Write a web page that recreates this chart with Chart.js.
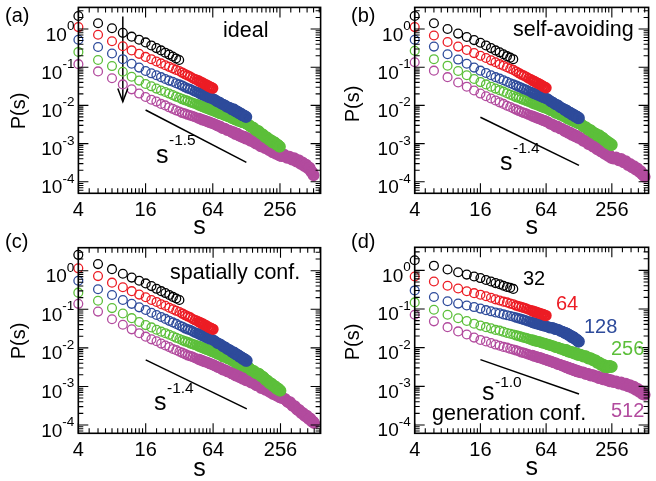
<!DOCTYPE html>
<html><head><meta charset="utf-8">
<script src="https://cdn.jsdelivr.net/npm/chart.js@4"></script>
<style>
html,body{margin:0;padding:0;background:#fff}
body{width:656px;height:481px;position:relative;overflow:hidden}
canvas{position:absolute}
</style></head><body>
<canvas id="ca" width="328" height="240" style="left:0;top:0"></canvas>
<canvas id="cb" width="328" height="240" style="left:328px;top:0"></canvas>
<canvas id="cc" width="328" height="253" style="left:0;top:228px"></canvas>
<canvas id="cd" width="328" height="253" style="left:328px;top:228px"></canvas>
<script>
// ---------- data ----------
const sGrid = [4,6,8,10,12,14,16,18,20,22,24,26,28,30,32,34,36,38,40,42,44,46,48,50,52,54,56,58,60,62,64,
  66,68,70,72,74,76,78,80,82,84,86,88,90,92,94,96,98,100,102,104,106,108,110,112,114,116,118,120,122,124,126,128,
  132,136,140,144,148,152,156,160,164,168,172,176,180,184,188,192,196,200,204,208,212,216,220,224,228,232,236,240,244,248,252,256,
  264,272,280,288,296,304,312,320,328,336,344,352,360,368,376,384,392,400,408,416,424,432,440,448,456,464,472,480,488,496,504,512];
const sizes = [32,64,128,256,512];
const xTickLabels = [4,16,64,256];
const xMinorTicks = [5,6,7,8,9,10,11,12,13,14,15,20,24,28,32,36,40,44,48,52,56,60,80,96,112,128,144,160,176,192,208,224,240,320,384,448,512,576];
const yTickExps = [0,-1,-2,-3,-4];
const yMinorMult = [2,3,4,5,6,7,8,9];

// log10 P(s) for each panel and system size (s taken from sGrid in order)
const a32 = [.34,.15,.02,-.10,-.20,-.28,-.35,-.43,-.50,-.56,-.62,-.67,-.72,-.77,-.81];
const a64 = [.05,-.15,-.32,-.45,-.56,-.65,-.73,-.79,-.85,-.90,-.95,-.99,-1.03,-1.07,-1.10,-1.14,-1.18,-1.21,-1.24,-1.28,-1.31,-1.33,-1.36,-1.39,-1.41,-1.44,-1.46,-1.49,-1.51,-1.53,-1.55];
const a128 = [-.28,-.47,-.64,-.79,-.91,-1.01,-1.10,-1.16,-1.21,-1.26,-1.31,-1.35,-1.38,-1.42,-1.45,-1.48,-1.52,-1.55,-1.57,-1.60,-1.63,-1.65,-1.67,-1.70,-1.72,-1.74,-1.76,-1.78,-1.80,-1.81,-1.83,
  -1.84,-1.87,-1.90,-1.91,-1.92,-1.95,-1.97,-1.98,-1.99,-2.02,-2.04,-2.05,-2.05,-2.07,-2.10,-2.11,-2.10,-2.12,-2.15,-2.16,-2.16,-2.18,-2.21,-2.21,-2.21,-2.24,-2.26,-2.26,-2.26,-2.28,-2.30,-2.30];
const a256 = [-.60,-.81,-.97,-1.12,-1.25,-1.35,-1.44,-1.50,-1.56,-1.61,-1.65,-1.69,-1.73,-1.77,-1.80,-1.83,-1.86,-1.88,-1.91,-1.93,-1.95,-1.97,-1.99,-2.01,-2.03,-2.05,-2.07,-2.08,-2.10,-2.12,-2.13,
  -2.15,-2.16,-2.18,-2.19,-2.21,-2.22,-2.22,-2.24,-2.26,-2.26,-2.28,-2.29,-2.29,-2.31,-2.33,-2.33,-2.34,-2.35,-2.37,-2.37,-2.37,-2.39,-2.41,-2.40,-2.41,-2.42,-2.44,-2.44,-2.44,-2.45,-2.47,-2.47,
  -2.50,-2.52,-2.56,-2.57,-2.58,-2.62,-2.65,-2.67,-2.67,-2.70,-2.74,-2.75,-2.76,-2.79,-2.83,-2.83,-2.84,-2.87,-2.90,-2.90,-2.91,-2.93,-2.97,-2.96,-2.96,-2.98,-3.02,-3.02,-3.03,-3.05,-3.08,-3.08];
const a512 = [-.92,-1.11,-1.29,-1.45,-1.58,-1.69,-1.78,-1.85,-1.90,-1.96,-2.00,-2.05,-2.09,-2.13,-2.16,-2.19,-2.21,-2.24,-2.26,-2.28,-2.30,-2.32,-2.34,-2.36,-2.38,-2.39,-2.41,-2.43,-2.44,-2.46,-2.47,
  -2.49,-2.50,-2.53,-2.54,-2.54,-2.57,-2.60,-2.60,-2.60,-2.62,-2.65,-2.65,-2.65,-2.67,-2.70,-2.70,-2.70,-2.72,-2.75,-2.74,-2.74,-2.76,-2.79,-2.79,-2.79,-2.81,-2.83,-2.82,-2.82,-2.84,-2.87,-2.86,
  -2.86,-2.90,-2.93,-2.93,-2.93,-2.97,-3.00,-3.00,-3.00,-3.03,-3.07,-3.06,-3.05,-3.08,-3.12,-3.11,-3.11,-3.14,-3.17,-3.16,-3.15,-3.19,-3.23,-3.21,-3.20,-3.23,-3.27,-3.25,-3.24,-3.27,-3.31,-3.29,
  -3.33,-3.31,-3.29,-3.33,-3.37,-3.36,-3.34,-3.38,-3.42,-3.40,-3.38,-3.43,-3.47,-3.45,-3.43,-3.48,-3.53,-3.51,-3.49,-3.54,-3.59,-3.57,-3.55,-3.60,-3.65,-3.64,-3.63,-3.69,-3.74,-3.75,-3.77,-3.83];

const b32 = [.34,.15,.00,-.12,-.21,-.29,-.36,-.43,-.50,-.56,-.61,-.66,-.71,-.75,-.79];
const b64 = [.05,-.17,-.34,-.46,-.55,-.63,-.70,-.76,-.82,-.87,-.92,-.96,-1.00,-1.04,-1.07,-1.11,-1.15,-1.19,-1.22,-1.25,-1.29,-1.31,-1.35,-1.37,-1.40,-1.42,-1.45,-1.47,-1.50,-1.52,-1.54];
const b128 = [-.28,-.46,-.66,-.80,-.91,-1.01,-1.09,-1.15,-1.21,-1.26,-1.30,-1.34,-1.38,-1.42,-1.45,-1.48,-1.51,-1.54,-1.57,-1.59,-1.62,-1.64,-1.67,-1.69,-1.71,-1.73,-1.75,-1.77,-1.79,-1.80,-1.82,
  -1.83,-1.86,-1.89,-1.91,-1.92,-1.95,-1.98,-1.98,-1.99,-2.02,-2.05,-2.06,-2.07,-2.09,-2.12,-2.12,-2.13,-2.15,-2.18,-2.18,-2.19,-2.21,-2.24,-2.23,-2.24,-2.26,-2.29,-2.28,-2.29,-2.31,-2.34,-2.33];
const b256 = [-.57,-.79,-.96,-1.10,-1.21,-1.31,-1.39,-1.45,-1.51,-1.56,-1.60,-1.64,-1.68,-1.72,-1.75,-1.78,-1.80,-1.83,-1.85,-1.88,-1.90,-1.92,-1.94,-1.96,-1.97,-1.99,-2.01,-2.03,-2.04,-2.06,-2.07,
  -2.09,-2.10,-2.13,-2.14,-2.14,-2.17,-2.20,-2.20,-2.20,-2.22,-2.25,-2.25,-2.25,-2.27,-2.30,-2.30,-2.30,-2.32,-2.35,-2.34,-2.34,-2.36,-2.39,-2.39,-2.38,-2.41,-2.43,-2.42,-2.42,-2.44,-2.47,-2.46,
  -2.47,-2.51,-2.55,-2.56,-2.57,-2.60,-2.64,-2.64,-2.65,-2.68,-2.72,-2.72,-2.73,-2.76,-2.79,-2.79,-2.78,-2.81,-2.85,-2.84,-2.85,-2.88,-2.92,-2.92,-2.92,-2.95,-2.99,-2.98,-2.98,-3.01,-3.04,-3.03];
const b512 = [-.87,-1.09,-1.26,-1.40,-1.51,-1.61,-1.69,-1.76,-1.82,-1.87,-1.92,-1.96,-2.01,-2.04,-2.08,-2.11,-2.14,-2.17,-2.19,-2.21,-2.24,-2.26,-2.28,-2.30,-2.32,-2.34,-2.35,-2.37,-2.39,-2.40,-2.42,
  -2.43,-2.46,-2.49,-2.49,-2.50,-2.53,-2.56,-2.55,-2.55,-2.58,-2.61,-2.61,-2.61,-2.64,-2.67,-2.67,-2.67,-2.69,-2.72,-2.71,-2.71,-2.74,-2.77,-2.76,-2.76,-2.78,-2.81,-2.80,-2.80,-2.82,-2.85,-2.84,
  -2.85,-2.89,-2.93,-2.93,-2.93,-2.97,-3.01,-3.01,-3.01,-3.04,-3.08,-3.08,-3.07,-3.11,-3.15,-3.14,-3.14,-3.18,-3.21,-3.20,-3.19,-3.23,-3.27,-3.26,-3.25,-3.29,-3.32,-3.31,-3.30,-3.34,-3.37,-3.36,
  -3.39,-3.38,-3.36,-3.40,-3.44,-3.42,-3.40,-3.45,-3.49,-3.48,-3.46,-3.51,-3.56,-3.55,-3.53,-3.58,-3.62,-3.61,-3.59,-3.64,-3.68,-3.67,-3.65,-3.70,-3.74,-3.73,-3.72,-3.77,-3.81,-3.81,-3.83,-3.87];

const c32 = [.41,.17,.04,-.08,-.18,-.26,-.33,-.40,-.47,-.53,-.58,-.63,-.68,-.72,-.76];
const c64 = [.06,-.14,-.31,-.43,-.53,-.62,-.69,-.76,-.81,-.87,-.91,-.96,-1.00,-1.04,-1.07,-1.11,-1.15,-1.18,-1.21,-1.25,-1.28,-1.30,-1.33,-1.36,-1.38,-1.41,-1.43,-1.46,-1.48,-1.50,-1.52];
const c128 = [-.26,-.48,-.63,-.76,-.86,-.95,-1.02,-1.09,-1.15,-1.20,-1.25,-1.30,-1.34,-1.38,-1.42,-1.45,-1.49,-1.52,-1.54,-1.57,-1.60,-1.62,-1.64,-1.67,-1.69,-1.71,-1.73,-1.75,-1.77,-1.78,-1.80,
  -1.82,-1.85,-1.88,-1.89,-1.90,-1.93,-1.96,-1.97,-1.98,-2.01,-2.04,-2.04,-2.05,-2.08,-2.11,-2.11,-2.12,-2.14,-2.17,-2.17,-2.18,-2.20,-2.23,-2.23,-2.24,-2.26,-2.29,-2.28,-2.29,-2.31,-2.34,-2.33];
const c256 = [-.57,-.78,-.97,-1.11,-1.23,-1.33,-1.41,-1.47,-1.53,-1.58,-1.62,-1.66,-1.70,-1.74,-1.77,-1.80,-1.83,-1.85,-1.88,-1.90,-1.92,-1.94,-1.96,-1.98,-2.00,-2.02,-2.04,-2.05,-2.07,-2.09,-2.10,
  -2.12,-2.13,-2.16,-2.17,-2.17,-2.20,-2.23,-2.23,-2.23,-2.25,-2.28,-2.28,-2.28,-2.30,-2.33,-2.33,-2.33,-2.35,-2.38,-2.37,-2.37,-2.39,-2.42,-2.42,-2.41,-2.44,-2.46,-2.45,-2.45,-2.47,-2.50,-2.49,
  -2.50,-2.54,-2.58,-2.59,-2.60,-2.64,-2.66,-2.66,-2.67,-2.70,-2.74,-2.74,-2.76,-2.79,-2.83,-2.84,-2.85,-2.88,-2.92,-2.92,-2.92,-2.95,-2.99,-2.99,-2.99,-3.02,-3.06,-3.05,-3.05,-3.08,-3.11,-3.11];
const c512 = [-.86,-1.06,-1.26,-1.40,-1.52,-1.62,-1.71,-1.78,-1.83,-1.89,-1.94,-1.98,-2.03,-2.06,-2.10,-2.13,-2.16,-2.19,-2.21,-2.23,-2.26,-2.28,-2.30,-2.32,-2.34,-2.36,-2.37,-2.39,-2.41,-2.42,-2.44,
  -2.46,-2.47,-2.50,-2.51,-2.51,-2.54,-2.57,-2.57,-2.57,-2.59,-2.62,-2.62,-2.62,-2.64,-2.67,-2.67,-2.67,-2.69,-2.72,-2.71,-2.71,-2.73,-2.76,-2.76,-2.75,-2.78,-2.80,-2.79,-2.79,-2.81,-2.84,-2.83,
  -2.83,-2.87,-2.90,-2.90,-2.90,-2.94,-2.97,-2.97,-2.96,-3.00,-3.04,-3.03,-3.02,-3.05,-3.09,-3.08,-3.07,-3.11,-3.14,-3.13,-3.12,-3.16,-3.20,-3.18,-3.17,-3.20,-3.24,-3.22,-3.21,-3.24,-3.28,-3.26,
  -3.30,-3.31,-3.32,-3.36,-3.40,-3.41,-3.41,-3.46,-3.50,-3.51,-3.51,-3.56,-3.60,-3.61,-3.61,-3.65,-3.69,-3.69,-3.69,-3.73,-3.77,-3.77,-3.76,-3.80,-3.84,-3.84,-3.83,-3.87,-3.91,-3.91,-3.92,-3.95];

const d32 = [.26,.12,.02,-.05,-.11,-.16,-.20,-.25,-.29,-.33,-.36,-.40,-.43,-.45,-.48];
const d64 = [-.16,-.29,-.40,-.47,-.54,-.59,-.63,-.67,-.71,-.75,-.78,-.81,-.83,-.86,-.88,-.91,-.93,-.95,-.97,-.99,-1.01,-1.03,-1.05,-1.07,-1.08,-1.10,-1.11,-1.13,-1.14,-1.16,-1.17];
const d128 = [-.52,-.69,-.80,-.86,-.91,-.95,-.99,-1.03,-1.06,-1.09,-1.11,-1.14,-1.16,-1.18,-1.20,-1.22,-1.24,-1.26,-1.28,-1.30,-1.32,-1.33,-1.35,-1.36,-1.38,-1.39,-1.40,-1.42,-1.43,-1.44,-1.45,
  -1.46,-1.47,-1.49,-1.48,-1.49,-1.50,-1.53,-1.52,-1.53,-1.54,-1.57,-1.57,-1.58,-1.59,-1.62,-1.62,-1.63,-1.64,-1.67,-1.67,-1.68,-1.70,-1.73,-1.72,-1.73,-1.75,-1.78,-1.78,-1.79,-1.81,-1.84,-1.84];
const d256 = [-.83,-1.02,-1.15,-1.24,-1.31,-1.38,-1.43,-1.47,-1.50,-1.54,-1.56,-1.59,-1.62,-1.64,-1.66,-1.68,-1.70,-1.72,-1.74,-1.75,-1.77,-1.79,-1.80,-1.82,-1.83,-1.84,-1.85,-1.87,-1.88,-1.89,-1.90,
  -1.92,-1.92,-1.94,-1.95,-1.95,-1.97,-1.99,-1.99,-1.99,-2.01,-2.03,-2.03,-2.03,-2.05,-2.07,-2.06,-2.06,-2.08,-2.10,-2.10,-2.10,-2.11,-2.13,-2.13,-2.12,-2.14,-2.16,-2.15,-2.15,-2.17,-2.19,-2.18,
  -2.18,-2.20,-2.23,-2.22,-2.22,-2.25,-2.28,-2.27,-2.27,-2.29,-2.33,-2.32,-2.32,-2.35,-2.39,-2.38,-2.38,-2.41,-2.45,-2.44,-2.43,-2.46,-2.50,-2.48,-2.47,-2.49,-2.51,-2.49,-2.47,-2.48,-2.50,-2.49];
const d512 = [-1.15,-1.32,-1.47,-1.58,-1.66,-1.74,-1.80,-1.84,-1.88,-1.92,-1.95,-1.98,-2.00,-2.03,-2.05,-2.07,-2.09,-2.12,-2.13,-2.15,-2.17,-2.19,-2.20,-2.22,-2.23,-2.25,-2.26,-2.27,-2.29,-2.30,-2.31,
  -2.33,-2.34,-2.35,-2.36,-2.38,-2.39,-2.39,-2.41,-2.43,-2.43,-2.44,-2.45,-2.47,-2.47,-2.48,-2.49,-2.51,-2.51,-2.52,-2.53,-2.55,-2.54,-2.55,-2.56,-2.58,-2.58,-2.58,-2.59,-2.61,-2.61,-2.61,-2.62,
  -2.64,-2.64,-2.64,-2.66,-2.68,-2.68,-2.68,-2.70,-2.72,-2.71,-2.71,-2.73,-2.75,-2.75,-2.74,-2.76,-2.79,-2.78,-2.77,-2.79,-2.82,-2.80,-2.79,-2.81,-2.84,-2.83,-2.82,-2.84,-2.87,-2.85,-2.84,-2.86,
  -2.89,-2.88,-2.87,-2.90,-2.93,-2.91,-2.90,-2.93,-2.96,-2.94,-2.93,-2.96,-3.00,-2.98,-2.97,-3.00,-3.04,-3.02,-3.01,-3.05,-3.09,-3.07,-3.06,-3.10,-3.14,-3.13,-3.12,-3.16,-3.20,-3.19,-3.19,-3.22];

// guide lines [s, log10 P]
const slopeA = [[16,-2.12],[128,-3.49]];
const slopeB = [[16,-2.31],[128,-3.57]];
const slopeC = [[16,-2.31],[128,-3.58]];
const slopeD = [[16,-2.31],[128,-3.20]];
const arrowA = [[10,0.33],[10,-1.90]];

// ---------- style / layout ----------
const FONT = '"Liberation Sans", Arial, Helvetica, sans-serif';
const COLORS = ['#000000','#ec1c24','#2e4b9b','#5cbf3a','#b24b9e'];

const panels = [
  {id:'ca', w:328, h:240, left:78.4, right:321.7, top:4, xmax:592, ymin:5e-5, ymax:3.68, bottom:193.3, titlePad:-2,
   series:[a32,a64,a128,a256,a512], slope:slopeA, arrow:arrowA,
   tag:['(a)',5,22], ptitle:[19,111], note:['ideal',223,37],
   sl:{s:[156,163], sup:['-1.5',169,145]}},
  {id:'cb', w:328, h:240, left:86.7, right:327, top:4, xmax:556, ymin:5e-5, ymax:3.68, bottom:193.3, titlePad:-2,
   series:[b32,b64,b128,b256,b512], slope:slopeB,
   tag:['(b)',23,22], ptitle:[25.5,104], note:['self-avoiding',185,36],
   sl:{s:[172,170], sup:['-1.4',185,153]}},
  {id:'cc', w:328, h:253, left:78.3, right:321, top:19.7, xmax:584, ymin:6.1e-5, ymax:3.94, bottom:205.3, titlePad:-3.5,
   series:[c32,c64,c128,c256,c512], slope:slopeC,
   tag:['(c)',5,20], ptitle:[19,113], note:['spatially conf.',170,51],
   sl:{s:[154,182], sup:['-1.4',167,165]}},
  {id:'cd', w:328, h:253, left:86.7, right:327, top:19.3, xmax:556, ymin:6.1e-5, ymax:3.94, bottom:205.3, titlePad:-2.5,
   series:[d32,d64,d128,d256,d512], slope:slopeD,
   tag:['(d)',23,20], ptitle:[25.5,114], note:['generation conf.',104,192],
   sl:{s:[154,172], sup:['-1.0',167,159]},
   sizeLabels:[[195,57],[228,82],[256,105],[283,127],[283,189]]}
];
const panelById = {};
panels.forEach(p => { panelById[p.id] = p; });

// marker ring thickness grows where markers overlap densely (large s)
function ringWidth(ctx){
  const s = ctx.raw && ctx.raw.x;
  if (!s) return 1.3;
  if (s >= 96) return 3.0;
  if (s >= 48) return 2.4;
  if (s >= 34) return 1.7;
  return 1.3;
}

function txt(ctx, s, x, y, size, color, align){
  ctx.font = size + 'px ' + FONT;
  ctx.fillStyle = color || '#000';
  ctx.textAlign = align || 'left';
  ctx.textBaseline = 'alphabetic';
  ctx.fillText(s, x, y);
}

const framePlugin = {
  id: 'frame',
  afterDraw(chart){
    const P = panelById[chart.canvas.id];
    if (!P) return;
    const {ctx, chartArea: ca} = chart;
    const xs = chart.scales.x, ys = chart.scales.y;
    ctx.save();
    ctx.strokeStyle = '#000';
    ctx.lineWidth = 1.1;
    ctx.beginPath();
    const vt = (px, len) => { ctx.moveTo(px, ca.bottom); ctx.lineTo(px, ca.bottom - len); ctx.moveTo(px, ca.top); ctx.lineTo(px, ca.top + len); };
    const ht = (py, len) => { ctx.moveTo(ca.left, py); ctx.lineTo(ca.left + len, py); ctx.moveTo(ca.right, py); ctx.lineTo(ca.right - len, py); };
    xTickLabels.forEach(v => vt(xs.getPixelForValue(v), 10));
    xMinorTicks.forEach(v => { if (v < xs.max) vt(xs.getPixelForValue(v), 5); });
    for (let e = -5; e <= 0; e++) {
      const base = Math.pow(10, e);
      if (base >= ys.min && base <= ys.max) ht(ys.getPixelForValue(base), 10);
      yMinorMult.forEach(m => { const v = m * base; if (v > ys.min && v < ys.max) ht(ys.getPixelForValue(v), 5); });
    }
    ctx.stroke();
    ctx.lineWidth = 1.6;
    ctx.strokeRect(ca.left, ca.top, ca.right - ca.left, ca.bottom - ca.top);
    yTickExps.forEach(e => {
      const py = ys.getPixelForValue(Math.pow(10, e));
      const sup = String(e);
      ctx.font = '13.5px ' + FONT;
      const ws = ctx.measureText(sup).width;
      const xr = ca.left - 4;
      txt(ctx, sup, xr, py + 1, 13.5, '#000', 'right');
      txt(ctx, '10', xr - ws, py + 11.5, 19, '#000', 'right');
    });
    ctx.save();
    ctx.translate(P.ptitle[0], P.ptitle[1]);
    ctx.rotate(-Math.PI/2);
    ctx.font = '20px ' + FONT; ctx.fillStyle = '#000'; ctx.textAlign = 'center'; ctx.textBaseline = 'middle';
    ctx.fillText('P(s)', 0, 0);
    ctx.restore();
    txt(ctx, P.tag[0], P.tag[1], P.tag[2], 20);
    txt(ctx, P.note[0], P.note[1], P.note[2], 21.5);
    txt(ctx, 's', P.sl.s[0], P.sl.s[1], 25);
    txt(ctx, P.sl.sup[0], P.sl.sup[1], P.sl.sup[2], 15.5);
    if (P.arrow) {
      const tip = P.arrow[1];
      const tx = xs.getPixelForValue(tip[0]), ty = ys.getPixelForValue(Math.pow(10, tip[1]));
      ctx.lineWidth = 1.5;
      ctx.beginPath();
      ctx.moveTo(tx - 5, ty - 13); ctx.lineTo(tx, ty); ctx.lineTo(tx + 5, ty - 13);
      ctx.stroke();
    }
    if (P.sizeLabels) {
      P.sizeLabels.forEach((p, i) => txt(ctx, String(sizes[i]), p[0], p[1], 20, COLORS[i]));
    }
    ctx.restore();
  }
};

function makePanel(P){
  const datasets = P.series.map((arr, i) => ({
    label: 'N = ' + sizes[i],
    data: arr.map((v, j) => ({x: sGrid[j], y: Math.pow(10, v)})),
    borderColor: COLORS[i],
    backgroundColor: 'rgba(0,0,0,0)',
    pointBackgroundColor: 'rgba(0,0,0,0)',
    pointRadius: 4.4,
    pointHoverRadius: 4.4,
    pointBorderWidth: ringWidth,
    showLine: false,
    clip: false
  }));
  datasets.push({
    label: 'slope',
    data: P.slope.map(p => ({x: p[0], y: Math.pow(10, p[1])})),
    showLine: true, borderColor: '#000', borderWidth: 1.5, pointRadius: 0, clip: false
  });
  if (P.arrow) datasets.push({
    label: 'arrow',
    data: P.arrow.map(p => ({x: p[0], y: Math.pow(10, p[1])})),
    showLine: true, borderColor: '#000', borderWidth: 1.5, pointRadius: 0, clip: false
  });
  new Chart(document.getElementById(P.id), {
    type: 'scatter',
    data: {datasets},
    options: {
      responsive: false, animation: false, devicePixelRatio: 1, events: [],
      layout: {padding: {left: 0, top: P.top, right: P.w - P.right, bottom: 0}},
      plugins: {legend: {display: false}, tooltip: {enabled: false}},
      scales: {
        x: {
          type: 'logarithmic', position: 'bottom', min: 4, max: P.xmax,
          grid: {display: false, drawTicks: false}, border: {display: false},
          afterBuildTicks: s => { s.ticks = xTickLabels.map(v => ({value: v})); },
          afterFit: s => { s.height = P.h - P.bottom; },
          ticks: {autoSkip: false, maxRotation: 0, minRotation: 0, padding: 5, color: '#000',
                  font: {family: FONT, size: 20}, callback: v => String(v)},
          title: {display: true, text: 's', color: '#000', font: {family: FONT, size: 25},
                  padding: {top: 0, bottom: P.titlePad}}
        },
        y: {
          type: 'logarithmic', position: 'left', min: P.ymin, max: P.ymax,
          grid: {display: false, drawTicks: false}, border: {display: false},
          ticks: {display: false},
          afterFit: s => { s.width = P.left; }
        }
      }
    },
    plugins: [framePlugin]
  });
}
panels.forEach(makePanel);
</script>
</body></html>
